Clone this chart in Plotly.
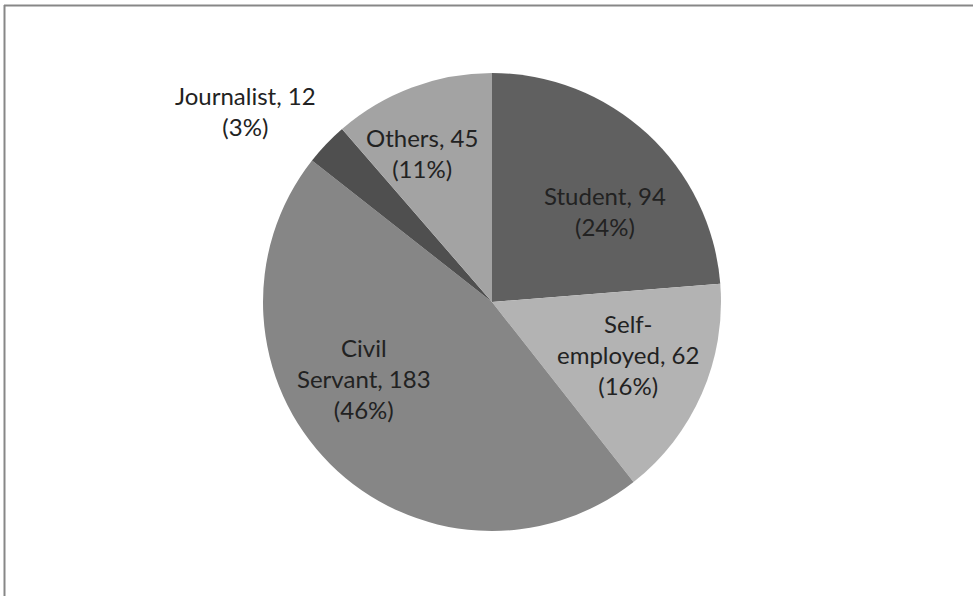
import plotly.graph_objects as go

categories = ["Student", "Self-employed", "Civil Servant", "Journalist", "Others"]
values = [94, 62, 183, 12, 45]
wrapped = ["Student", "Self-<br>employed", "Civil<br>Servant", "Journalist", "Others"]
colors = ["#606060", "#b3b3b3", "#868686", "#4f4f4f", "#a3a3a3"]

# label centres in pixels (layout, not data)
label_px = [(605, 211), (628, 354), (364, 378), (245, 111), (422, 153)]

total = sum(values)
texts = [f"{w}, {v}<br>({round(100 * v / total)}%)" for w, v in zip(wrapped, values)]

W, H = 973, 596
cx, cy, r = 492, 302, 229

fig = go.Figure(go.Pie(
    labels=categories,
    values=values,
    textinfo="none",
    sort=False,
    direction="clockwise",
    rotation=0,
    marker=dict(colors=colors, line=dict(width=0)),
    showlegend=False,
    hoverinfo="label+value+percent",
    domain=dict(x=[(cx - r) / W, (cx + r) / W], y=[1 - (cy + r) / H, 1 - (cy - r) / H]),
))

annotations = [
    dict(text=t, x=px / W, y=1 - py / H, xref="paper", yref="paper",
         xanchor="center", yanchor="middle", showarrow=False, align="center",
         font=dict(family="Lato, Open Sans, sans-serif", size=24, color="#222222"))
    for t, (px, py) in zip(texts, label_px)
]

fig.update_layout(
    width=W, height=H,
    margin=dict(l=0, r=0, t=0, b=0),
    paper_bgcolor="white",
    plot_bgcolor="white",
    annotations=annotations,
    shapes=[
        dict(type="line", xref="paper", yref="paper", x0=4 / W, x1=1, y0=1 - 5.5 / H, y1=1 - 5.5 / H,
             line=dict(color="#878787", width=2)),
        dict(type="line", xref="paper", yref="paper", x0=4.5 / W, x1=4.5 / W, y0=0, y1=1 - 5 / H,
             line=dict(color="#878787", width=2)),
    ],
)

fig.write_html("out.html")
